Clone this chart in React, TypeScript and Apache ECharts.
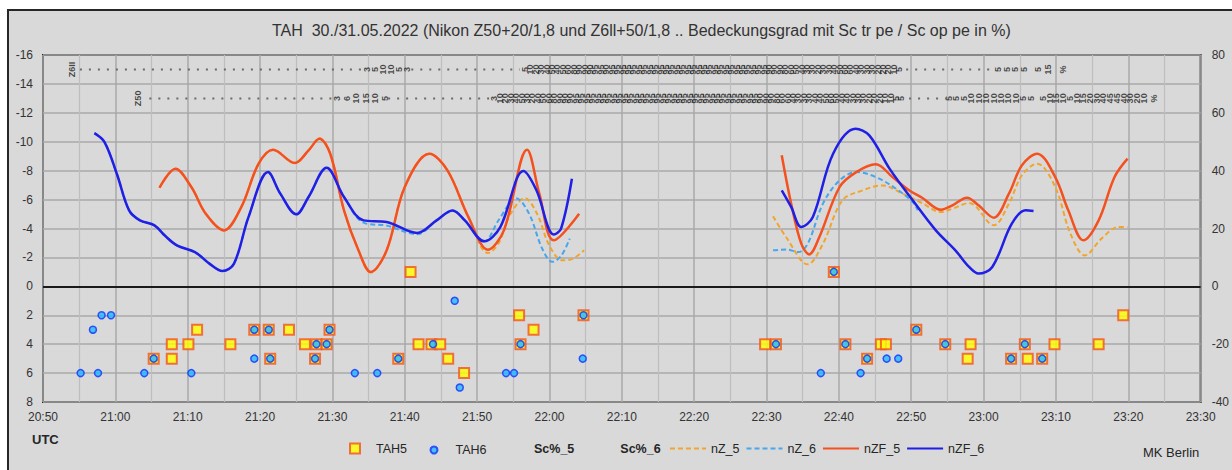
import React, { useEffect, useRef } from "react";
import * as echarts from "echarts";

const FONT = "'Liberation Sans', Arial, Helvetica, sans-serif";
const TITLE =
  "TAH  30./31.05.2022 (Nikon Z50+20/1,8 und Z6ll+50/1,8 .. Bedeckungsgrad mit Sc tr pe / Sc op pe in %)";

// time axis in minutes after midnight (UTC)
const X_MIN = 1250; // 20:50
const X_MAX = 1410; // 23:30
const X_STEP = 10;
const LEFT_MIN = -16;
const LEFT_MAX = 8;
const RIGHT_MIN = -40;
const RIGHT_MAX = 80;

// TAH readings [time, value]
const TAH5: [number, number][] = [
  [1265.3, 5], [1267.8, 4], [1267.8, 5], [1270.1, 4], [1271.3, 3], [1275.9, 4], [1279.2, 3],
  [1281.2, 3], [1281.4, 5], [1284.0, 3], [1286.2, 4], [1287.6, 5], [1287.8, 4], [1289.2, 4],
  [1289.6, 3], [1299.1, 5], [1300.8, -1], [1301.9, 4], [1303.7, 4], [1304.9, 4], [1306.0, 5],
  [1308.2, 6], [1315.8, 2], [1316.0, 4], [1317.8, 3], [1324.7, 2],
  [1349.8, 4], [1351.3, 4], [1359.3, -1], [1360.9, 4], [1363.9, 5], [1365.8, 4], [1366.5, 4],
  [1370.7, 3], [1374.7, 4], [1377.8, 5], [1378.2, 4], [1383.8, 5], [1385.7, 4], [1386.1, 5],
  [1388.1, 5], [1389.8, 4], [1395.9, 4], [1399.3, 2],
];
const TAH6: [number, number][] = [
  [1255.2, 6], [1256.9, 3], [1257.6, 6], [1258.1, 2], [1259.4, 2], [1264.0, 6], [1265.3, 5],
  [1270.5, 6], [1279.2, 3], [1279.2, 5], [1281.2, 3], [1281.4, 5], [1287.6, 5], [1287.8, 4],
  [1289.2, 4], [1289.6, 3], [1293.1, 6], [1296.2, 6], [1299.1, 5], [1303.9, 4], [1306.9, 1],
  [1307.6, 7], [1314.0, 6], [1315.1, 6], [1316.0, 4], [1324.7, 2], [1324.6, 5],
  [1351.3, 4], [1357.5, 6], [1359.3, -1], [1360.9, 4], [1363.0, 6], [1363.9, 5], [1366.6, 5],
  [1368.2, 5], [1370.7, 3], [1374.7, 4], [1383.8, 5], [1385.7, 4], [1388.1, 5],
];

// smoothed curves, two observation blocks each
const NZF6_1: [number, number][] = [
  [1257.1, -10.6], [1258.5, -9.98], [1260.2, -7.79], [1261.9, -5.25], [1263.4, -4.56], [1265.4, -4.22],
  [1266.8, -3.53], [1268.5, -2.83], [1271.0, -2.37], [1273.0, -1.57], [1274.8, -1.06], [1276.4, -1.57],
  [1278.4, -4.79], [1281.1, -7.9], [1282.8, -6.41], [1285.0, -4.98], [1286.7, -6.18], [1289.2, -8.2],
  [1291.6, -6.18], [1294.3, -4.56], [1297.5, -4.45], [1301.7, -3.69], [1304.4, -4.56], [1306.6, -5.25],
  [1308.3, -4.56], [1311.0, -3.11], [1313.2, -4.1], [1316.4, -7.97], [1318.2, -6.64], [1320.6, -3.59],
  [1321.6, -3.99], [1323.1, -7.44],
];
const NZF6_2: [number, number][] = [
  [1352.1, -6.64], [1353.4, -5.49], [1354.8, -4.1], [1356.4, -4.79], [1359.2, -9.17], [1362.3, -10.9],
  [1364.2, -10.44], [1367.0, -8.14], [1370.2, -5.95], [1373.4, -3.87], [1376.1, -2.49], [1378.0, -1.34],
  [1379.3, -0.88], [1381.2, -1.34], [1383.9, -4.33], [1385.8, -5.26], [1386.9, -5.21],
];
const NZF5_1: [number, number][] = [
  [1266.1, -6.82], [1268.3, -8.13], [1270.5, -6.87], [1272.5, -5.02], [1275.0, -3.87], [1277.4, -5.48],
  [1279.8, -8.48], [1281.8, -9.45], [1284.8, -8.53], [1286.7, -9.4], [1288.2, -10.2], [1289.7, -9.17],
  [1291.6, -5.25], [1293.6, -2.49], [1295.3, -0.99], [1297.5, -2.49], [1300.0, -6.87], [1303.4, -9.17],
  [1305.9, -8.02], [1308.8, -4.79], [1311.5, -2.53], [1313.7, -3.87], [1316.9, -9.45], [1318.6, -6.41],
  [1320.6, -3.18], [1324.1, -5.02],
];
const NZF5_2: [number, number][] = [
  [1352.1, -9.06], [1353.4, -5.72], [1354.8, -2.95], [1355.9, -2.21], [1357.3, -3.41], [1360.1, -6.87],
  [1362.4, -7.9], [1365.1, -8.44], [1367.4, -7.56], [1369.7, -6.64], [1371.5, -6.13], [1374.1, -5.3],
  [1375.7, -5.6], [1377.7, -6.13], [1379.3, -5.6], [1381.4, -4.75], [1383.5, -6.41], [1385.3, -8.37],
  [1387.4, -9.17], [1389.9, -7.56], [1391.7, -5.26], [1393.8, -3.18], [1395.9, -4.56], [1398.1, -7.56],
  [1399.9, -8.83],
];
const NZ5_1: [number, number][] = [
  [1266.1, -6.82], [1268.3, -8.13], [1270.5, -6.87], [1272.5, -5.02], [1275.0, -3.87], [1277.4, -5.48],
  [1279.8, -8.48], [1281.8, -9.45], [1284.8, -8.53], [1286.7, -9.4], [1288.2, -10.25], [1289.7, -9.17],
  [1291.6, -5.25], [1293.6, -2.49], [1295.3, -0.95], [1297.5, -2.49], [1300.0, -6.87], [1303.4, -9.17],
  [1305.9, -8.02], [1308.8, -4.79], [1311.5, -2.3], [1313.0, -3.0], [1314.5, -4.9], [1316.6, -6.1],
  [1318.3, -5.0], [1320.0, -2.8], [1321.8, -1.8], [1323.2, -1.9], [1324.8, -2.5],
];
const NZ5_2: [number, number][] = [
  [1350.9, -4.84], [1352.7, -3.41], [1355.7, -1.52], [1357.8, -2.95], [1360.5, -5.95], [1363.3, -6.64],
  [1366.0, -6.98], [1368.8, -6.41], [1371.5, -5.76], [1374.1, -5.14], [1375.7, -5.37], [1378.0, -5.76],
  [1381.4, -4.22], [1383.5, -5.72], [1385.3, -7.68], [1387.4, -8.48], [1389.9, -6.87], [1392.0, -3.64],
  [1394.0, -2.14], [1396.3, -3.3], [1398.6, -4.1], [1399.9, -4.1],
];
const NZ6_1: [number, number][] = [
  [1257.1, -10.6], [1258.5, -9.98], [1260.2, -7.79], [1261.9, -5.25], [1263.4, -4.56], [1265.4, -4.22],
  [1266.8, -3.53], [1268.5, -2.83], [1271.0, -2.37], [1273.0, -1.57], [1274.8, -1.06], [1276.4, -1.57],
  [1278.4, -4.79], [1281.1, -7.9], [1282.8, -6.41], [1285.0, -4.98], [1286.7, -6.18], [1289.2, -8.2],
  [1291.6, -6.18], [1294.3, -4.4], [1297.5, -4.2], [1301.7, -3.6], [1304.4, -4.56], [1306.6, -5.25],
  [1308.3, -4.56], [1311.0, -3.11], [1313.0, -4.6], [1315.4, -6.1], [1317.2, -5.0], [1319.0, -2.6],
  [1320.4, -1.7], [1321.6, -2.1], [1322.8, -3.3],
];
const NZ6_2: [number, number][] = [
  [1350.9, -2.49], [1352.8, -2.54], [1354.4, -2.37], [1355.7, -2.95], [1357.8, -5.72], [1360.1, -7.33],
  [1362.4, -7.9], [1365.1, -7.56], [1367.9, -6.75], [1370.2, -5.83], [1370.9, -5.26],
];

// Sc cover (%) annotation rows: Z6II (Sc%_6) and Z50 (Sc%_5)
const SC6_LEVEL = -15;
const SC5_LEVEL = -13;
const SC6_NAME = { t: 1254.0, text: "Z6II" };
const SC5_NAME = { t: 1263.1, text: "Z50" };
const SC6_DOTS: [number, number][] = [[1255.1, 1294.0], [1300.9, 1315.9], [1369.3, 1381.6]];
const SC5_DOTS: [number, number][] = [[1264.7, 1290.2], [1297.7, 1311.9], [1369.7, 1374.8]];
// readings grouped by run: start time, sampling step (min), values
const SC6_A = { start: 1294.8, step: 1.1, values: [3, 5, 10, 10, 5, 3] };
const SC6_B = {
  start: 1316.6, step: 0.75, values: [
    5, 10, 20, 30, 40, 50, 40, 50, 60, 80, 90, 90, 90, 95, 95, 90, 95, 95, 95, 95,
    95, 95, 95, 95, 95, 95, 95, 95, 95, 95, 95, 95, 95, 95, 95, 95, 95, 95, 95, 95,
    95, 95, 95, 95, 95, 90, 90, 90, 80, 60, 50, 40, 30, 30, 20, 30, 30, 40, 50, 60,
    60, 40, 30, 30, 30, 20, 20, 20, 10, 5,
  ],
};
const SC6_C = { start: 1382.0, step: 1.2, values: [5, 5, 5, 5] };
const SC6_D = { start: 1387.5, step: 1.4, values: [5, 15] };
const SC6_UNIT = { t: 1391.0, text: "%" };
const SC5_A = { start: 1290.7, step: 1.3, values: [3, 6, 10, 15, 10, 5] };
const SC5_B = {
  start: 1312.4, step: 0.75, values: [
    3, 10, 20, 30, 40, 50, 30, 20, 40, 50, 60, 80, 90, 90, 90, 95, 95, 95, 95, 95,
    95, 95, 95, 95, 95, 95, 95, 95, 95, 95, 95, 95, 95, 95, 95, 95, 95, 95, 95, 95,
    95, 95, 95, 95, 95, 95, 95, 95, 95, 90, 90, 90, 80, 60, 60, 40, 30, 30, 30, 40,
    40, 50, 60, 50, 40, 40, 30, 30, 30, 20, 20, 20, 10, 10, 5, 5,
  ],
};
const SC5_C = { start: 1375.2, step: 1.03, values: [5, 5, 5, 10, 10, 10, 10, 10, 10, 10, 5, 5] };
const SC5_D = { start: 1388.2, step: 0.93, values: [5, 10, 15, 10, 5, 10, 15, 20, 30, 40, 45, 45, 40, 30, 20, 10] };
const SC5_UNIT = { t: 1403.6, text: "%" };

const pad = (n: number) => (n < 10 ? "0" : "") + n;
const fmtTime = (v: number) => `${Math.floor(v / 60)}:${pad(Math.round(v % 60))}`;

function runItems(run: { start: number; step: number; values: number[] }, level: number) {
  return run.values.map((v, i) => ({ name: String(v), value: [run.start + i * run.step, level] }));
}
function rowLabels(
  nameItem: { t: number; text: string },
  runs: { start: number; step: number; values: number[] }[],
  unit: { t: number; text: string },
  level: number
) {
  const items: any[] = [{ name: nameItem.text, value: [nameItem.t, level] }];
  runs.forEach((r) => items.push(...runItems(r, level)));
  items.push({ name: unit.text, value: [unit.t, level] });
  return items;
}
function dotData(segs: [number, number][], level: number) {
  const out: any[] = [];
  segs.forEach(([a, b], i) => {
    if (i > 0) out.push([a - 0.1, "-"]);
    out.push([a, level], [b, level]);
  });
  return out;
}

const C_NZ5 = "#f2a52e";
const C_NZ6 = "#48a6ee";
const C_NZF5 = "#f4511e";
const C_NZF6 = "#1f1fe6";

export default function App() {
  const ref = useRef<HTMLDivElement>(null);
  useEffect(() => {
    if (!ref.current) return;
    const chart = echarts.init(ref.current, undefined, { renderer: "svg" });

    const lineSeries = (name: string, data: any[], color: string, dashed: boolean, width: number) => ({
      type: "line",
      name,
      data,
      yAxisIndex: 0,
      smooth: 0.35,
      symbol: "none",
      showSymbol: false,
      silent: true,
      itemStyle: { color },
      lineStyle: { color, width, type: dashed ? [5, 3] : "solid" },
    });
    const labelSeries = (name: string, data: any[]) => ({
      type: "scatter",
      name,
      data,
      yAxisIndex: 0,
      symbol: "rect",
      symbolSize: 1,
      silent: true,
      itemStyle: { color: "rgba(0,0,0,0)" },
      label: {
        show: true,
        position: "inside",
        rotate: 90,
        formatter: "{b}",
        fontSize: 9,
        fontWeight: "bold",
        fontFamily: FONT,
        color: "#1e1e1e",
      },
      z: 5,
    });
    const dotSeries = (name: string, data: any[]) => ({
      type: "line",
      name,
      data,
      yAxisIndex: 0,
      symbol: "none",
      showSymbol: false,
      silent: true,
      connectNulls: false,
      itemStyle: { color: "rgba(0,0,0,0)" },
      lineStyle: { color: "#6a6a6a", width: 2, type: [2, 7] },
    });

    const hiddenIcon = { itemStyle: { opacity: 0 }, lineStyle: { opacity: 0 } };
    const legendText = { fontSize: 12.5, color: "#262626", fontFamily: FONT };

    chart.setOption({
      animation: false,
      backgroundColor: "transparent",
      textStyle: { fontFamily: FONT },
      title: {
        text: TITLE,
        left: 272,
        top: 22,
        padding: 0,
        textStyle: { fontSize: 16, fontWeight: "normal", color: "#333", fontFamily: FONT },
      },
      grid: {
        left: 43,
        right: 26,
        top: 55,
        bottom: 68,
        show: true,
        borderColor: "#2b2b2b",
        borderWidth: 2,
        backgroundColor: "transparent",
      },
      xAxis: {
        type: "value",
        min: X_MIN,
        max: X_MAX,
        interval: X_STEP,
        axisLine: { show: false },
        axisTick: { show: false },
        axisLabel: { formatter: fmtTime, fontSize: 12, color: "#333", margin: 9, showMinLabel: true, showMaxLabel: true },
        splitLine: { show: true, lineStyle: { color: "#a8a8a8", width: 1.5 } },
        minorTick: { show: false, splitNumber: 2 },
        minorSplitLine: { show: true, lineStyle: { color: "#bebebe", width: 1.2 } },
      },
      yAxis: [
        {
          type: "value",
          inverse: true,
          min: LEFT_MIN,
          max: LEFT_MAX,
          interval: 2,
          axisLine: { show: false },
          axisTick: { show: false },
          axisLabel: { fontSize: 12, color: "#333", margin: 10 },
          splitLine: { show: true, lineStyle: { color: "#a8a8a8", width: 1.5 } },
        },
        {
          type: "value",
          position: "right",
          min: RIGHT_MIN,
          max: RIGHT_MAX,
          interval: 20,
          axisLine: { show: false },
          axisTick: { show: false },
          splitLine: { show: false },
          axisLabel: { fontSize: 12, color: "#333", margin: 11 },
        },
      ],
      legend: [
        {
          data: ["TAH5"],
          left: 349,
          top: 442,
          padding: 0,
          itemWidth: 10,
          itemHeight: 10,
          selectedMode: false,
          textStyle: { ...legendText, padding: [0, 0, 0, 11] },
        },
        {
          data: ["TAH6"],
          left: 429.5,
          top: 443.5,
          padding: 0,
          itemWidth: 7,
          itemHeight: 7,
          selectedMode: false,
          textStyle: { ...legendText, padding: [0, 0, 0, 13] },
        },
        {
          data: [
            { name: "Sc%_5", ...hiddenIcon },
            { name: "Sc%_6", ...hiddenIcon },
          ],
          left: 528,
          top: 442,
          padding: 0,
          itemWidth: 1,
          itemHeight: 10,
          itemGap: 40,
          selectedMode: false,
          textStyle: { ...legendText, fontWeight: "bold" },
        },
        {
          data: ["nZ_5", "nZ_6", "nZF_5", "nZF_6"],
          left: 669,
          top: 442,
          padding: 0,
          itemWidth: 36,
          itemHeight: 10,
          itemGap: 6,
          selectedMode: false,
          itemStyle: { opacity: 0 },
          textStyle: legendText,
        },
      ],
      graphic: [
        {
          type: "text",
          left: 32,
          top: 433,
          style: { text: "UTC", fontSize: 13, fontWeight: "bold", fill: "#262626", fontFamily: FONT },
        },
        {
          type: "text",
          left: 1143,
          top: 446,
          style: { text: "MK Berlin", fontSize: 13, fill: "#262626", fontFamily: FONT },
        },
      ],
      series: [
        labelSeries("Sc%_6", rowLabels(SC6_NAME, [SC6_A, SC6_B, SC6_C, SC6_D], SC6_UNIT, SC6_LEVEL)),
        dotSeries("Sc%_6", dotData(SC6_DOTS, SC6_LEVEL)),
        labelSeries("Sc%_5", rowLabels(SC5_NAME, [SC5_A, SC5_B, SC5_C, SC5_D], SC5_UNIT, SC5_LEVEL)),
        dotSeries("Sc%_5", dotData(SC5_DOTS, SC5_LEVEL)),
        lineSeries("nZ_5", NZ5_1, C_NZ5, true, 2),
        lineSeries("nZ_5", NZ5_2, C_NZ5, true, 2),
        lineSeries("nZ_6", NZ6_1, C_NZ6, true, 2),
        lineSeries("nZ_6", NZ6_2, C_NZ6, true, 2),
        lineSeries("nZF_5", NZF5_1, C_NZF5, false, 2.5),
        lineSeries("nZF_5", NZF5_2, C_NZF5, false, 2.5),
        lineSeries("nZF_6", NZF6_1, C_NZF6, false, 2.5),
        lineSeries("nZF_6", NZF6_2, C_NZF6, false, 2.5),
        {
          type: "scatter",
          name: "TAH5",
          data: TAH5,
          yAxisIndex: 0,
          symbol: "rect",
          symbolSize: 10,
          itemStyle: { color: "#ffff00", borderColor: "#f4511e", borderWidth: 2 },
          markLine: {
            silent: true,
            symbol: ["none", "none"],
            label: { show: false },
            lineStyle: { color: "#1a1a1a", width: 2, type: "solid" },
            data: [{ yAxis: 0 }],
          },
        },
        {
          type: "scatter",
          name: "TAH6",
          data: TAH6,
          yAxisIndex: 0,
          symbol: "circle",
          symbolSize: 7,
          itemStyle: { color: "#22b8ff", borderColor: "#1030ff", borderWidth: 1.5 },
        },
      ],
    });
    return () => chart.dispose();
  }, []);

  return (
    <div style={{ position: "fixed", left: 0, top: 0, width: 1232, height: 470, background: "#ffffff", overflow: "hidden" }}>
      <div
        style={{
          position: "absolute",
          left: 7,
          top: 9,
          width: 1240,
          height: 480,
          background: "#d9d9d9",
          border: "2px solid #262626",
          boxSizing: "border-box",
        }}
      />
      <div ref={ref} style={{ position: "absolute", left: 0, top: 0, width: 1232, height: 470 }} />
    </div>
  );
}
